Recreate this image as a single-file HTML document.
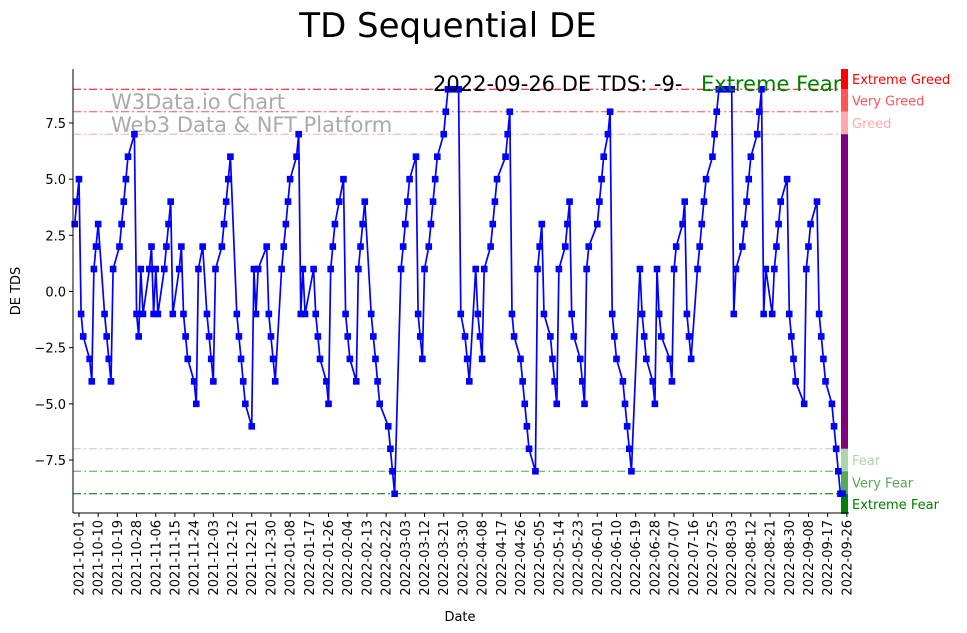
<!DOCTYPE html>
<html><head><meta charset="utf-8"><style>
html,body{margin:0;padding:0;background:#fff;}
svg{display:block;font-family:"DejaVu Sans","Liberation Sans",sans-serif;}
</style></head><body>
<svg id="chart" width="967" height="633" viewBox="0 0 967 633" xmlns="http://www.w3.org/2000/svg">
<text x="448" y="37" font-size="34" text-anchor="middle" fill="#000">TD Sequential DE</text>
<g id="bands"></g>
<g id="refs"></g>
<text x="111" y="109" font-size="21" fill="#aaaaaa">W3Data.io Chart</text>
<text x="111" y="132" font-size="21" fill="#aaaaaa">Web3 Data &amp; NFT Platform</text>
<g id="series"></g>
<g id="axes"></g>
<text x="433" y="91" font-size="21" fill="#000">2022-09-26 DE TDS: -9-</text>
<text x="701" y="91" font-size="21" fill="green">Extreme Fear</text>
<text x="20" y="291" font-size="13" text-anchor="middle" transform="rotate(-90 20 291)">DE TDS</text>
<text x="460" y="621" font-size="13" text-anchor="middle">Date</text>
</svg>
<script>
// day offsets from 2021-09-29
const days = [0,1,2,3,4,7,8,9,10,11,14,15,16,17,18,21,22,23,24,25,28,29,30,31,32,35,36,37,38,39,42,43,44,45,46,49,50,51,52,53,56,57,58,60,
62,63,64,65,66,69,70,71,72,73,76,77,78,79,80,83,84,85,86,90,91,92,93,94,97,98,99,100,101,104,105,106,107,108,112,113,114,115,118,119,120,121,122,124,126,127,128,129,132,133,134,135,136,139,140,141,142,143,147,148,149,150,153,154,155,156,157,160,161,162,163,164,166,167,168,169,170,173,174,175,176,178,180,181,183,184,185,188,189,190,191,192,195,196,197,198,202,203,204,205,206,209,210,211,212,213,216,217,218,219,220,223,224,225,226,227,230,231,232,233,234,237,238,239,240,241,245,246,247,248,250,251,252,253,254,257,258,259,260,261,265,266,267,268,271,272,273,274,275,279,280,281,282,285,286,287,288,289,292,293,294,295,296,299,300,301,302,304,306,308,309,310,313,314,315,316,317,320,321,322,323,324,327,328,329,330,331,334,335,336,337,338,342,343,344,345,348,349,350,351,352,355,356,357,358,359,360];
const values = [3,4,5,-1,-2,-3,-4,1,2,3,-1,-2,-3,-4,1,2,3,4,5,6,7,-1,-2,1,-1,1,2,-1,1,-1,1,2,3,4,-1,1,2,-1,-2,-3,-4,-5,1,2,
-1,-2,-3,-4,1,2,3,4,5,6,-1,-2,-3,-4,-5,-6,1,-1,1,2,-1,-2,-3,-4,1,2,3,4,5,6,7,-1,1,-1,1,-1,-2,-3,-4,-5,1,2,3,4,5,-1,-2,-3,-4,1,2,3,4,-1,-2,-3,-4,-5,-6,-7,-8,-9,1,2,3,4,5,6,-1,-2,-3,1,2,3,4,5,6,7,8,9,9,9,9,-1,-2,-3,-4,1,-1,-2,-3,1,2,3,4,5,6,7,8,-1,-2,-3,-4,-5,-6,-7,-8,1,2,3,-1,-2,-3,-4,-5,1,2,3,4,-1,-2,-3,-4,-5,1,2,3,4,5,6,7,8,-1,-2,-3,-4,-5,-6,-7,-8,1,-1,-2,-3,-4,-5,1,-1,-2,-3,-4,1,2,3,4,-1,-2,-3,1,2,3,4,5,6,7,8,9,9,9,9,-1,1,2,3,4,5,6,7,8,9,-1,1,-1,1,2,3,4,5,-1,-2,-3,-4,-5,1,2,3,4,-1,-2,-3,-4,-5,-6,-7,-8,-9,-9];
const tickDays = [2,11,20,29,38,47,56,65,74,83,92,101,110,119,128,137,146,155,164,173,182,191,200,209,218,227,236,245,254,263,272,281,290,299,308,317,326,335,344,353,362];
const tickLabels = ["2021-10-01","2021-10-10","2021-10-19","2021-10-28","2021-11-06","2021-11-15","2021-11-24","2021-12-03","2021-12-12","2021-12-21","2021-12-30","2022-01-08","2022-01-17","2022-01-26","2022-02-04","2022-02-13","2022-02-22","2022-03-03","2022-03-12","2022-03-21","2022-03-30","2022-04-08","2022-04-17","2022-04-26","2022-05-05","2022-05-14","2022-05-23","2022-06-01","2022-06-10","2022-06-19","2022-06-28","2022-07-07","2022-07-16","2022-07-25","2022-08-03","2022-08-12","2022-08-21","2022-08-30","2022-09-08","2022-09-17","2022-09-26"];
const yTicks = [7.5,5,2.5,0,-2.5,-5,-7.5];
const yTickLabels = ["7.5","5.0","2.5","0.0","\u22122.5","\u22125.0","\u22127.5"];
const levels = [9,8,7,-7,-8,-9];
const levelColors = ["#ff0000","#ff4d4d","#ffaaaa","#a8d8a8","#4ea84e","#006400"];
const zoneNames = ["Extreme Greed","Very Greed","Greed","Fear","Very Fear","Extreme Fear"];
const zoneFrom = [9.9,9,8,-7,-8,-9];
const zoneTo = [9,8,7,-8,-9,-9.9];
const zoneColors = ["#ff0000","#ff5555","#ffaaaa","#aad6aa","#55aa55","#008000"];

const NS="http://www.w3.org/2000/svg";
const L=73,R=849,T=69,B=513;
const x=d=>74.7+d*2.133;
const y=v=>291.5-v*22.47;
function mk(tag,attrs,parent){const e=document.createElementNS(NS,tag);for(const k in attrs)e.setAttribute(k,attrs[k]);parent.appendChild(e);return e;}

const refs=document.getElementById('refs');
levels.forEach((lv,i)=>{
  const e=mk('line',{x1:L,x2:841,y1:y(lv),y2:y(lv),stroke:levelColors[i],'stroke-width':1,'stroke-dasharray':'8 3 2 3'},refs);
  
  
});
const bands=document.getElementById('bands');
zoneNames.forEach((n,i)=>{
  const e=mk('rect',{x:841,width:7,y:y(zoneFrom[i]),height:y(zoneTo[i])-y(zoneFrom[i]),fill:zoneColors[i]},bands);
  
  
  const t=mk('text',{x:852,y:(y(zoneFrom[i])+y(zoneTo[i]))/2+5,'font-size':13,fill:zoneColors[i]},bands);
  t.textContent=n;
  
  
});
const mid=mk('rect',{x:841,width:7,y:y(7),height:y(-7)-y(7),fill:'#800080'},bands);



const s=document.getElementById('series');
const pts=days.map((d,i)=>x(d).toFixed(1)+','+y(values[i]).toFixed(1)).join(' ');
const pl=mk('polyline',{points:pts,fill:'none',stroke:'#0000ff','stroke-width':1.7,'stroke-linejoin':'round'},s);


days.forEach((d,i)=>{
  const m=mk('rect',{x:x(d)-3.3,y:y(values[i])-3.3,width:6.6,height:6.6,fill:'#0000ff'},s);
  
  
});

const ax=document.getElementById('axes');
const ls=mk('line',{x1:L,x2:L,y1:T,y2:B,stroke:'#000','stroke-width':1},ax);


const bs=mk('line',{x1:L,x2:R,y1:B,y2:B,stroke:'#000','stroke-width':1},ax);


yTicks.forEach((v,i)=>{
  mk('line',{x1:L-4,x2:L,y1:y(v),y2:y(v),stroke:'#000'},ax);
  const t=mk('text',{x:L-7,y:y(v)+5,'font-size':13,'text-anchor':'end'},ax);
  t.textContent=yTickLabels[i];
  
  
});
tickDays.forEach((d,i)=>{
  const xx=x(d);
  mk('line',{x1:xx,x2:xx,y1:B,y2:B+4,stroke:'#000'},ax);
  const t=mk('text',{x:xx+4.5,y:B+7,'font-size':13,'text-anchor':'end',transform:`rotate(-90 ${xx+4.5} ${B+7})`},ax);
  t.textContent=tickLabels[i];
  
  
});
</script>
</body></html>
